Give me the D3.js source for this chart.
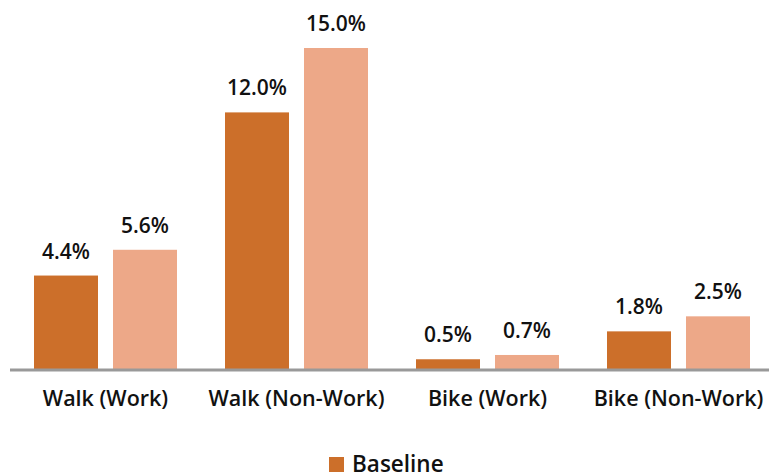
<!DOCTYPE html>
<html>
<head>
<meta charset="utf-8">
<script src="https://cdn.jsdelivr.net/npm/d3@7"></script>
<style>
  html, body { margin: 0; padding: 0; background: #fff; }
  svg { display: block; }
  text { font-family: "Open Sans", "DejaVu Sans", sans-serif; fill: #111; }
</style>
</head>
<body>
<svg id="chart" width="769" height="475"></svg>
<script>
// Mode share by trip type
const categories = ["Walk (Work)", "Walk (Non-Work)", "Bike (Work)", "Bike (Non-Work)"];
const seriesNames = ["Baseline", "Scenario"];
const baselineValues = [4.4, 12.0, 0.5, 1.8];
const scenarioValues = [5.6, 15.0, 0.7, 2.5];
const seriesColors = ["#CC6F2A", "#EDA888"];
const legendNames = ["Baseline"];

const baseY = 370;
const svg = d3.select("#chart");

const x0 = d3.scaleBand().domain(categories).range([10, 774]).paddingInner(48 / 191).paddingOuter(24 / 191);
const x1 = d3.scaleBand().domain(seriesNames).range([0, x0.bandwidth()]).paddingInner(15 / 79);
const y = d3.scaleLinear().domain([0, 15]).range([baseY, 48]);

const rows = categories.map((c, i) => ({
  cat: c,
  vals: [
    { s: seriesNames[0], v: baselineValues[i], color: seriesColors[0] },
    { s: seriesNames[1], v: scenarioValues[i], color: seriesColors[1] }
  ]
}));

const groups = svg.append("g").selectAll("g.grp").data(rows).join("g")
  .attr("class", "grp")
  .attr("transform", d => `translate(${x0(d.cat)},0)`);

groups.selectAll("rect").data(d => d.vals).join("rect")
  .attr("x", d => x1(d.s))
  .attr("width", x1.bandwidth())
  .attr("y", d => y(d.v))
  .attr("height", d => baseY - y(d.v))
  .attr("fill", d => d.color);

groups.selectAll("text.val").data(d => d.vals).join("text")
  .attr("class", "val")
  .attr("x", d => x1(d.s) + x1.bandwidth() / 2)
  .attr("y", d => y(d.v) - 17)
  .attr("text-anchor", "middle")
  .attr("font-size", 21)
  .attr("font-weight", 600)
  .text(d => d.v.toFixed(1) + "%");

// Category axis
const axis = svg.append("g").attr("transform", `translate(0,${baseY})`)
  .call(d3.axisBottom(x0).tickSize(0).tickPadding(21));
axis.select(".domain").attr("d", "M10,0H769").attr("stroke", "#999").attr("stroke-width", 3);
axis.selectAll(".tick text")
  .attr("font-size", 21.5)
  .attr("font-weight", 600)
  .attr("fill", "#111")
  .style("font-family", '"Open Sans", "DejaVu Sans", sans-serif');

// Legend
legendNames.forEach((name, i) => {
  const lg = svg.append("g").attr("transform", `translate(329,457)`);
  lg.append("rect").attr("width", 15).attr("height", 15).attr("fill", seriesColors[i]);
  lg.append("text").attr("x", 23).attr("y", 15).attr("font-size", 22.5).attr("font-weight", 600).text(name);
});
</script>
</body>
</html>
